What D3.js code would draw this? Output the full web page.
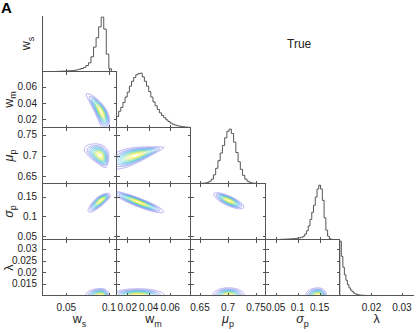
<!DOCTYPE html>
<html>
<head>
<meta charset="utf-8">
<script src="https://cdn.jsdelivr.net/npm/d3@7"></script>
<style>
  body { margin: 0; background: #fff; }
  svg { display: block; font-family: "Liberation Sans", Arial, sans-serif; }
</style>
</head>
<body>
<svg id="chart" width="416" height="334"></svg>
<script>
// parameter labels (main glyph + subscript)
const labelMain = ["w", "w", "\u03bc", "\u03c3", "\u03bb"];
const labelSub = ["s", "m", "p", "p", ""];
const labelItalic = [false, false, true, true, false];

// axis limits and ticks, per parameter
const xDomains = [[0.022, 0.109], [0.01, 0.079], [0.633, 0.767], [0.027, 0.195], [0.0095, 0.0338]];
const yDomains = [[0, 1.03], [0.01, 0.079], [0.633, 0.767], [0.042, 0.183], [0.01, 0.034]];
const xTicks = [[0.05, 0.1], [0.02, 0.04, 0.06], [0.65, 0.7, 0.75], [0.05, 0.1, 0.15], [0.02, 0.03]];
const yTicks = [[], [0.02, 0.04, 0.06], [0.65, 0.7, 0.75], [0.05, 0.1, 0.15], [0.015, 0.02, 0.025, 0.03]];

// marginal histograms: first bin edge, bin width, heights relative to the peak
const histStart = [0.022, 0.01, 0.65, 0.06, 0.0096];
const histWidth = [0.003, 0.002, 0.004, 0.004, 0.0005];
const wsCounts = [0, 0, 0, 0, 0, 0.002, 0.003, 0.005, 0.007, 0.009, 0.012, 0.016, 0.02, 0.028, 0.04,
  0.055, 0.075, 0.11, 0.16, 0.27, 0.45, 0.62, 0.82, 1.0, 0.78, 0.32, 0.05, 0, 0];
const wmCounts = [0.2, 0.3, 0.37, 0.46, 0.56, 0.65, 0.76, 0.85, 0.92, 0.97, 0.99, 1.0, 0.93, 0.85, 0.76,
  0.66, 0.56, 0.47, 0.4, 0.33, 0.27, 0.22, 0.18, 0.14, 0.11, 0.08, 0.06, 0.045, 0.033, 0.025, 0.018,
  0.012, 0.008, 0.005];
const mupCounts = [0.003, 0.005, 0.01, 0.02, 0.04, 0.08, 0.16, 0.28, 0.42, 0.56, 0.7, 0.84, 0.96, 1.0,
  0.92, 0.76, 0.57, 0.4, 0.26, 0.15, 0.08, 0.04, 0.02, 0.01, 0.004];
const sigpCounts = [0.003, 0.004, 0.005, 0.007, 0.009, 0.01, 0.012, 0.015, 0.018, 0.022, 0.028, 0.033,
  0.04, 0.06, 0.1, 0.16, 0.25, 0.37, 0.5, 0.63, 0.78, 0.93, 1.0, 0.93, 0.72, 0.4, 0.17, 0.06, 0.015];
const lambdaCounts = [1.0, 0.72, 0.52, 0.38, 0.28, 0.2, 0.14, 0.1, 0.07, 0.045, 0.03, 0.02, 0.012,
  0.008, 0.005, 0.003, 0.002];
const histCounts = [wsCounts, wmCounts, mupCounts, sigpCounts, lambdaCounts];

// pairwise posteriors:
// row, col, primary axis, mode, sd below, sd above,
// secondary mode, slope, curvature, sd below, sd above, spread change
const pairs = [
  [1, 0, "y", 0.0297, 0.0105, 0.0103, 0.0908, -0.463, -11.4, 0.0036, 0.0034, 0],
  [2, 0, "y", 0.700, 0.0135, 0.0130, 0.0902, -0.20, 0, 0.0069, 0.0046, 0.25],
  [3, 0, "y", 0.142, 0.0145, 0.0077, 0.0915, 0.44, 0, 0.0038, 0.0034, 0],
  [4, 0, "y", 0.0100, 0.0014, 0.0014, 0.091, 0, 0, 0.0085, 0.0045, 0],
  [2, 1, "x", 0.0277, 0.0115, 0.0123, 0.700, 0.72, 0, 0.0089, 0.0089, -0.3],
  [3, 1, "x", 0.031, 0.0115, 0.0107, 0.136, -1.02, 0, 0.0058, 0.0048, 0],
  [4, 1, "x", 0.030, 0.0115, 0.0115, 0.0100, 0, 0, 0.00135, 0.00135, 0],
  [3, 2, "x", 0.7015, 0.0125, 0.0125, 0.1402, -0.58, 0, 0.0065, 0.0055, 0],
  [4, 2, "x", 0.701, 0.0133, 0.0133, 0.0100, 0, 0, 0.00153, 0.00153, 0],
  [4, 3, "x", 0.147, 0.0135, 0.0085, 0.0100, 0, 0, 0.00153, 0.00153, 0]
];
const contourLevels = [0.1, 0.19, 0.28, 0.37, 0.46, 0.55, 0.64, 0.73, 0.82, 0.91];
const contourColors = ["#8878e4", "#5a78ea", "#3aa6ea", "#30d0d0", "#70d68a", "#d0dc48", "#f6f21a"];

const svg = d3.select("#chart");
const axisColor = "#555";
const colEdge = d3.range(6).map(j => Math.round(42.2 + j * 74.1) + 0.5);
const rowEdge = d3.range(6).map(i => Math.round(14.8 + i * 56.1) + 0.5);

const xScale = j => d3.scaleLinear().domain(xDomains[j]).range([colEdge[j], colEdge[j + 1]]);
const yScale = i => d3.scaleLinear().domain(yDomains[i]).range([rowEdge[i + 1], rowEdge[i]]);
const colour = d3.interpolateRgbBasis(contourColors);

function density(p, x, y) {
  const [, , prim, m, sl, sh, ms, a, b, tl, th, c] = p;
  const u = prim === "y" ? y : x;
  const v = prim === "y" ? x : y;
  const du = u - m;
  const zu = du / (du < 0 ? sl : sh);
  const centre = ms + a * du + b * du * du;
  const spread = Math.max(0.3, 1 + c * zu);
  const dv = v - centre;
  const zv = dv / ((dv < 0 ? tl : th) * spread);
  return Math.exp(-0.5 * (zu * zu + zv * zv));
}

const defs = svg.append("defs");
const gContours = svg.append("g").attr("fill", "none").attr("stroke-width", 0.6);
const gHist = svg.append("g").attr("fill", "none").attr("stroke", "#444").attr("stroke-width", 0.9);
const gAxes = svg.append("g").attr("stroke", axisColor).attr("stroke-width", 1)
  .attr("fill", "none").attr("shape-rendering", "crispEdges");
const gText = svg.append("g").attr("fill", "#222");

// contour panels
pairs.forEach(p => {
  const row = p[0], col = p[1];
  const xs = xScale(col), ys = yScale(row);
  const id = "clip" + row + col;
  defs.append("clipPath").attr("id", id).append("rect")
    .attr("x", colEdge[col]).attr("y", rowEdge[row])
    .attr("width", colEdge[col + 1] - colEdge[col]).attr("height", rowEdge[row + 1] - rowEdge[row]);

  const [x0, x1] = xDomains[col], [y0, y1] = yDomains[row];
  const xlo = x0 - 0.25 * (x1 - x0), xhi = x1 + 0.25 * (x1 - x0);
  const ylo = y0 - 0.25 * (y1 - y0), yhi = y1 + 0.25 * (y1 - y0);
  const nx = 180, ny = 150;
  const dx = (xhi - xlo) / nx, dy = (yhi - ylo) / ny;
  const values = new Array(nx * ny);
  for (let j = 0; j < ny; j++) {
    for (let i = 0; i < nx; i++) {
      values[j * nx + i] = density(p, xlo + (i + 0.5) * dx, ylo + (j + 0.5) * dy);
    }
  }
  const path = d3.geoPath(d3.geoTransform({
    point: function(u, v) { this.stream.point(xs(xlo + u * dx), ys(ylo + v * dy)); }
  }));
  const contours = d3.contours().size([nx, ny]).thresholds(contourLevels)(values);

  gContours.append("g").attr("clip-path", "url(#" + id + ")")
    .selectAll("path").data(contours).enter()
    .append("path")
    .attr("d", path)
    .attr("stroke", (d, k) => colour(k / (contourLevels.length - 1)));
});

// axes, ticks and histograms
for (let i = 0; i < 5; i++) {
  for (let j = 0; j <= i; j++) {
    const xs = xScale(j);
    const left = colEdge[j], right = colEdge[j + 1], top = rowEdge[i], bottom = rowEdge[i + 1];

    if (i === j) {
      const ys = d3.scaleLinear().domain(yDomains[0]).range([bottom, top]);
      const counts = histCounts[i], start = histStart[i], w = histWidth[i];
      const pts = [[xDomains[i][0], 0]];
      counts.forEach((c, k) => pts.push([start + k * w, c]));
      pts.push([start + counts.length * w, 0], [xDomains[i][1], 0]);
      gHist.append("path")
        .attr("d", d3.line().curve(d3.curveStepAfter).x(d => xs(d[0])).y(d => ys(d[1]))(pts));

      gAxes.append("path").attr("d", `M${left},${top}V${bottom}H${right}`);
      xTicks[j].forEach(t => {
        gAxes.append("path").attr("d", `M${Math.round(xs(t)) + 0.5},${bottom}v-3`);
      });
    } else {
      const ys = yScale(i);
      gAxes.append("rect").attr("x", left).attr("y", top)
        .attr("width", right - left).attr("height", bottom - top);
      xTicks[j].forEach(t => {
        const x = Math.round(xs(t)) + 0.5;
        gAxes.append("path").attr("d", `M${x},${bottom}v-3M${x},${top}v3`);
      });
      yTicks[i].forEach(t => {
        const y = Math.round(ys(t)) + 0.5;
        gAxes.append("path").attr("d", `M${left},${y}h3M${right},${y}h-3`);
      });
    }

    if (i === 4) {
      xTicks[j].forEach(t => {
        gText.append("text").attr("x", xs(t)).attr("y", 311)
          .attr("text-anchor", "middle").attr("font-size", 10).text(String(t));
      });
    }
    if (j === 0 && i > 0) {
      const ys = yScale(i);
      yTicks[i].forEach(t => {
        gText.append("text").attr("x", 37).attr("y", ys(t) + 3.5)
          .attr("text-anchor", "end").attr("font-size", 10).text(String(t));
      });
    }
  }
}

function addLabel(g, k) {
  const t = g.append("text").attr("text-anchor", "middle").attr("font-size", 12.5);
  t.append("tspan").attr("font-style", labelItalic[k] ? "italic" : "normal").text(labelMain[k]);
  if (labelSub[k]) {
    t.append("tspan").attr("font-size", 9).attr("dy", 3.5).text(labelSub[k]);
  }
}

// bottom parameter labels
for (let j = 0; j < 5; j++) {
  addLabel(gText.append("g")
    .attr("transform", `translate(${(colEdge[j] + colEdge[j + 1]) / 2},323)`), j);
}
// left parameter labels
for (let i = 0; i < 5; i++) {
  const bx = i === 0 ? 30 : 12.5;
  addLabel(gText.append("g")
    .attr("transform", `translate(${bx},${(rowEdge[i] + rowEdge[i + 1]) / 2}) rotate(-90)`), i);
}

gText.append("text").attr("x", 287).attr("y", 48).attr("font-size", 12).text("True");
gText.append("text").attr("x", 1).attr("y", 13).attr("font-size", 15)
  .attr("font-weight", "bold").attr("fill", "#000").text("A");
</script>
</body>
</html>
